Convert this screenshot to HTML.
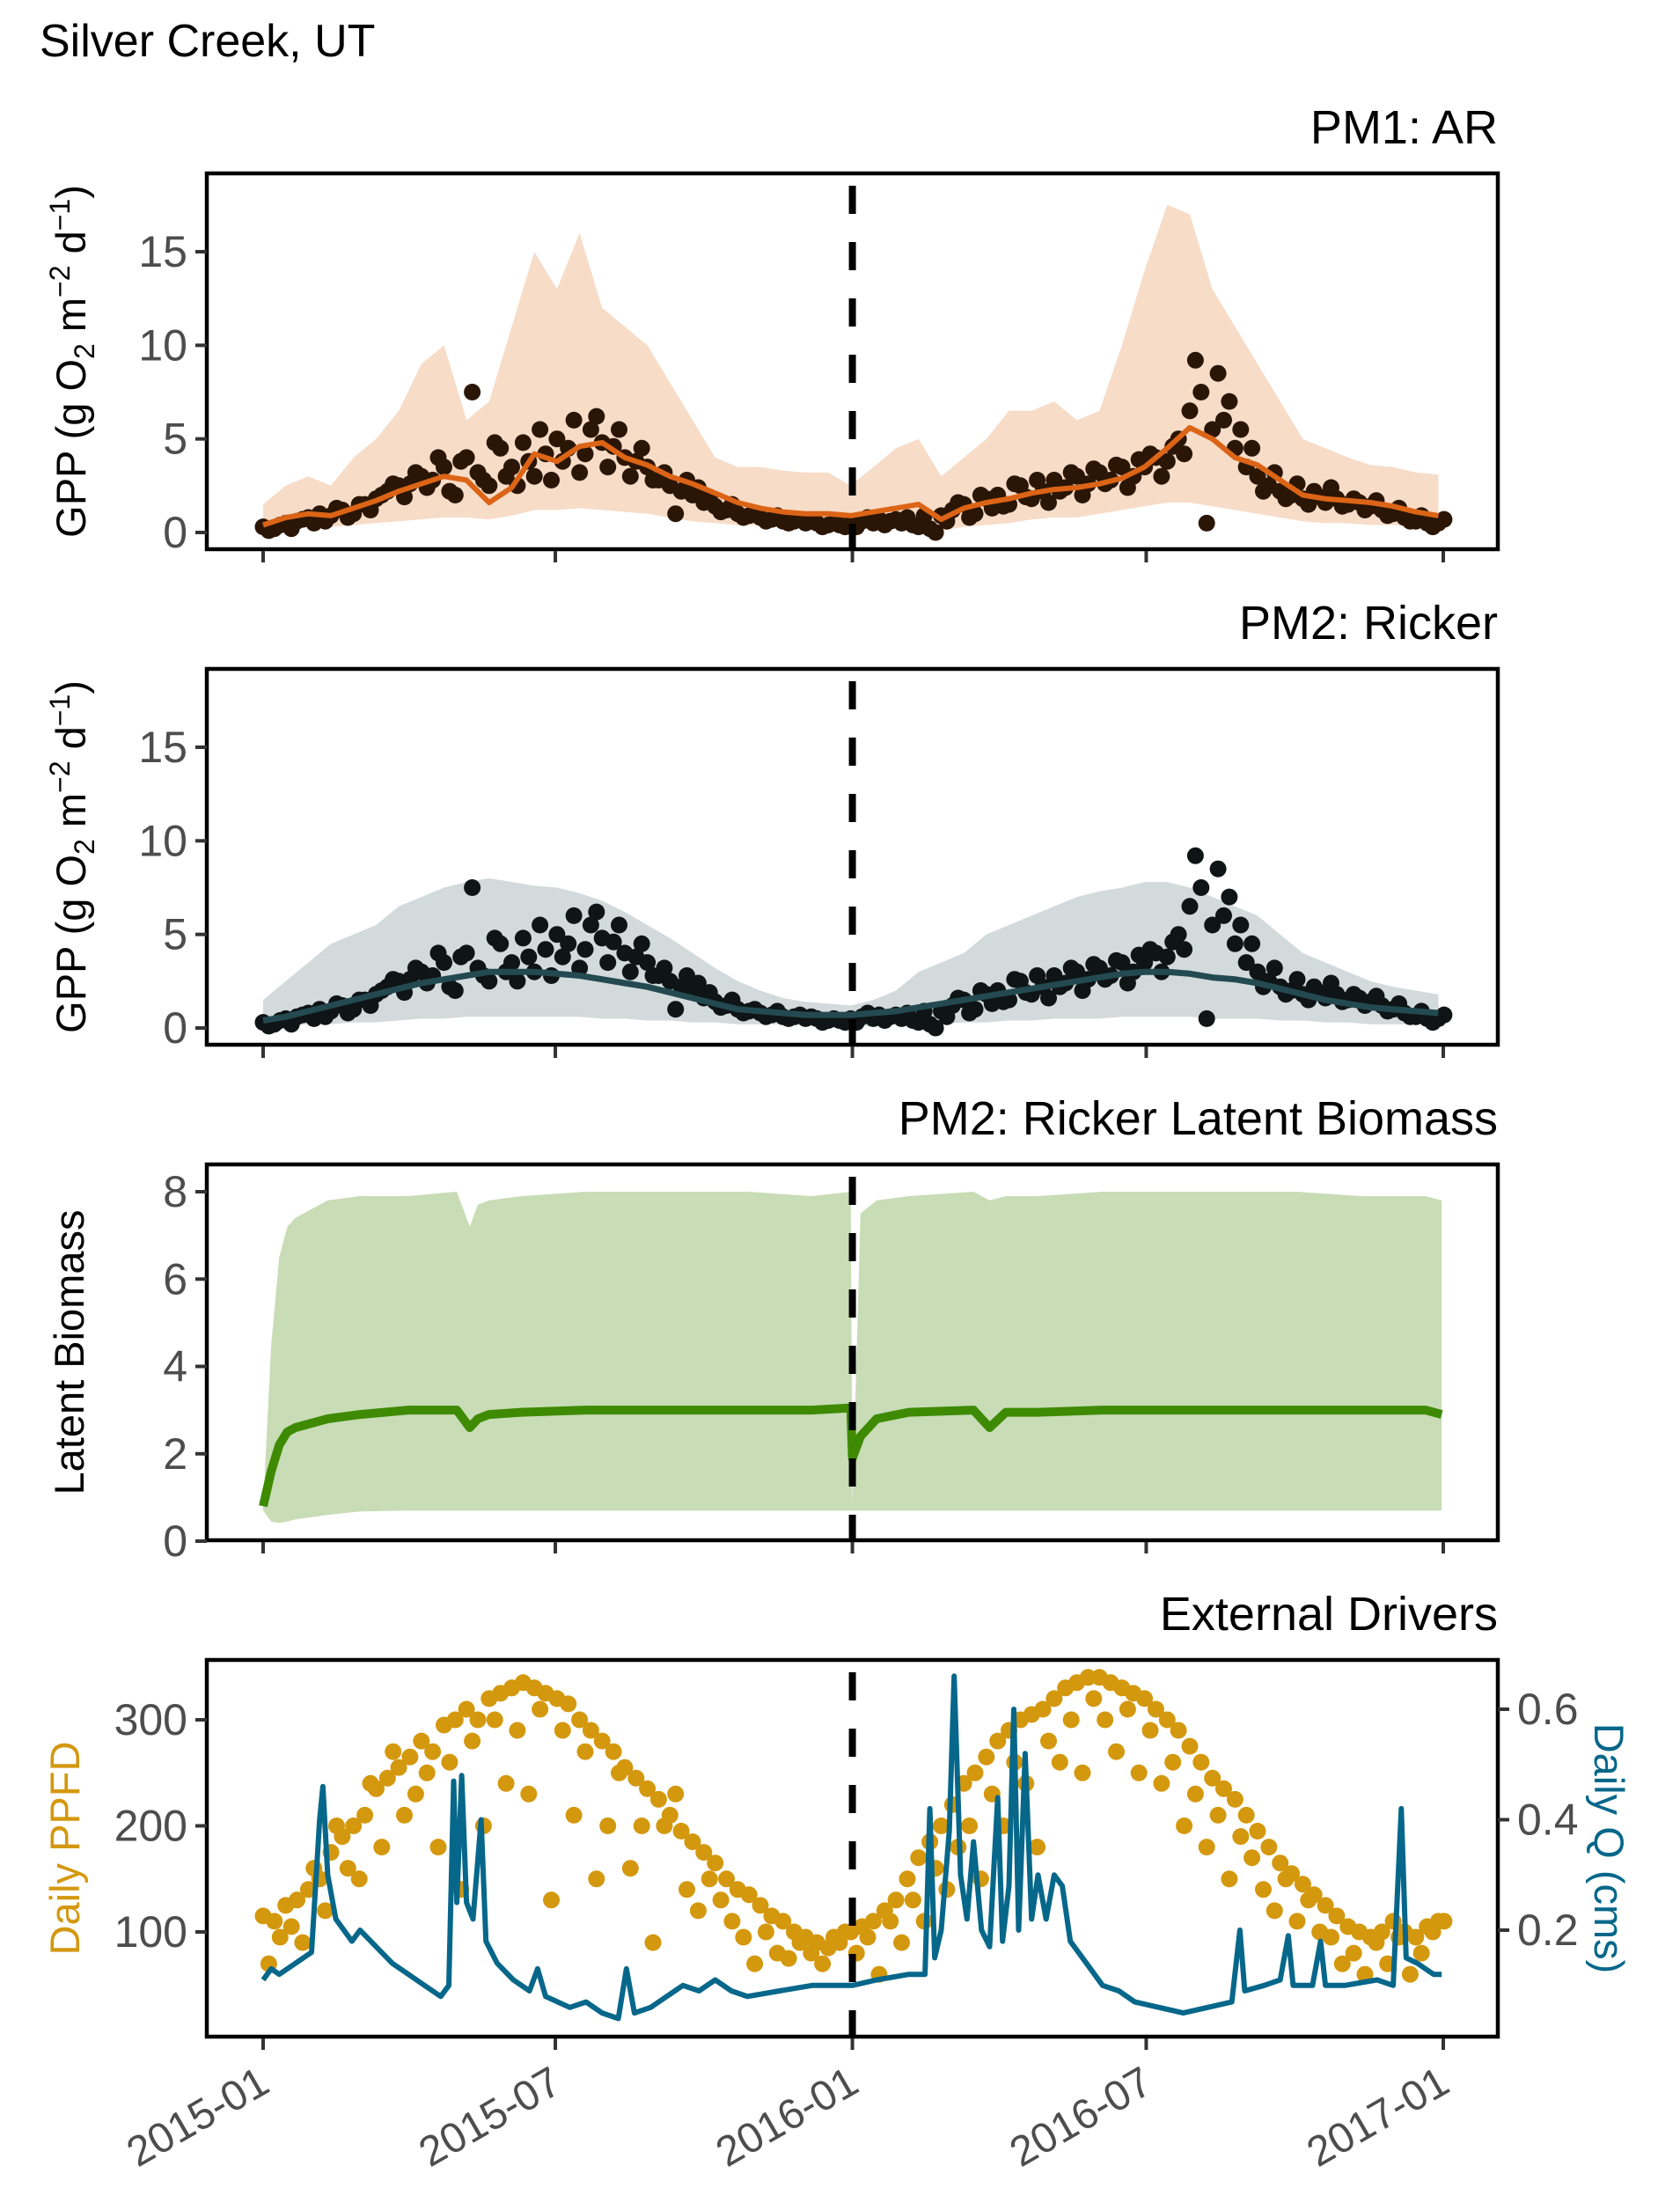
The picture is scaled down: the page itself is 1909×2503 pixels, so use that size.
<!DOCTYPE html>
<html><head><meta charset="utf-8"><title>Silver Creek, UT</title>
<style>
html,body{margin:0;padding:0;background:#fff;}
svg{display:block;font-family:"Liberation Sans",Arial,sans-serif;}
</style></head>
<body>
<svg id="chart" xmlns="http://www.w3.org/2000/svg" width="1909" height="2503" viewBox="0 0 1909 2503">
<rect x="0" y="0" width="1909" height="2503" fill="#fff"/>
<text x="45" y="64" font-size="52" fill="#000">Silver Creek, UT</text>
</svg>
<script>
// ---------- DATA ----------
const xTickLabels = ["2015-01","2015-07","2016-01","2016-07","2017-01"];
const xTickDays = [0,181,365,547,731];
const gppTicks = [0,5,10,15];
const bioTicks = [0,2,4,6,8];
const ppfdTicks = [100,200,300];
const qTicks = [0.2,0.4,0.6];
const breakDay = 365;

// weekly observed GPP (two samples per week)
const obsA = [0.3,0.2,0.5,0.6,0.8, 1.0,0.9,1.2,1.0, 1.5,1.8,2.2,2.5, 2.6,3.0,2.8,3.5,2.0, 4.0,3.2,2.5,4.5, 3.5,4.8,3.0,4.2, 5.0,4.5,3.2,5.5,4.8, 4.6,4.0,3.8,3.5, 2.8,2.5,2.2,2.0, 1.6,1.4,1.2,1.0,0.9, 0.8,0.7,0.6,0.6, 0.5,0.5,0.4,0.4,
  0.5,0.6,0.5,0.4,0.7, 0.8,0.3,0.2,0.9, 1.2,1.5,1.0,1.8, 2.0,1.5,2.5,1.8,2.2, 2.8,2.4,3.0,2.6, 3.2,2.8,3.5,3.0, 3.5,4.0,3.8,5.0, 6.5,7.5,5.5,6.0,4.5, 3.5,3.0,2.5,2.2, 2.0,1.8,2.2,1.6,1.8, 1.5,1.6,1.4,1.2, 1.0,0.8,0.6,0.5,0.5];
const obsB = [0.1,0.4,0.2,0.7,0.5, 0.6,1.3,0.8,1.5, 1.2,2.0,2.6,1.9, 3.2,2.4,4.0,2.2,3.8, 7.5,2.8,4.8,3.0, 2.5,3.8,5.5,2.8, 3.8,6.0,4.2,6.2,3.5, 5.5,3.0,4.5,2.8, 3.2,1.0,2.8,2.4, 1.9,1.1,1.5,0.8,1.0, 0.6,0.9,0.5,0.7, 0.6,0.3,0.5,0.3,
  0.3,0.8,0.7,0.6,0.5, 0.4,0.9,0.0,0.6, 1.6,0.8,2.0,1.3, 1.4,2.6,1.9,2.8,1.6, 2.2,3.2,2.0,3.4, 2.6,3.6,2.4,3.9, 4.2,3.0,4.6,4.2, 9.2,0.5,8.5,7.0,5.5, 4.5,2.2,3.2,1.8, 2.6,1.5,1.9,2.4,1.4, 1.8,1.2,1.7,0.9, 1.3,0.6,0.9,0.3,0.7];

// biweekly model outputs
const arMean = [0.4,0.8,1.0,0.9,1.3,1.7,2.2,2.6,3.0,2.8,1.6,2.4,4.2,3.8,4.6,4.8,4.0,3.6,3.0,2.6,2.1,1.6,1.3,1.1,1.0,1.0,
  0.9,1.1,1.3,1.5,0.7,1.3,1.6,1.8,2.1,2.3,2.4,2.6,2.9,3.5,4.5,5.6,5.0,4.0,3.6,2.8,2.0,1.8,1.7,1.6,1.4,1.1,0.9];
const arUpper = [1.5,2.5,3.0,2.5,4,5,6.5,9,10,6,7,11,15,13,16,12,11,10,8,6,4,3.5,3.5,3.3,3.2,3.2,
  2.5,3.5,4.5,5,3,4,5,6.5,6.5,7,6,6.5,10,14,17.5,17,13,11,9,7,5,4.5,4,3.6,3.5,3.2,3.1];
const arLower = [0.1,0.2,0.3,0.3,0.4,0.5,0.6,0.7,0.8,0.8,0.7,0.9,1.2,1.2,1.3,1.2,1.1,1.0,0.8,0.6,0.5,0.4,0.4,0.3,0.3,0.3,
  0.3,0.3,0.2,0.2,0.1,0.3,0.4,0.5,0.7,0.8,0.8,1.0,1.2,1.4,1.6,1.6,1.4,1.2,1.0,0.8,0.6,0.5,0.5,0.4,0.4,0.3,0.3];
const rkMean = [0.4,0.6,0.9,1.2,1.5,1.8,2.1,2.4,2.6,2.8,3.0,3.0,3.0,2.9,2.8,2.6,2.4,2.2,1.9,1.6,1.3,1.0,0.9,0.8,0.7,0.7,
  0.7,0.8,0.9,1.1,1.3,1.5,1.7,1.9,2.1,2.3,2.5,2.7,2.9,3.0,3.0,2.9,2.7,2.6,2.4,2.1,1.8,1.5,1.3,1.1,1.0,0.9,0.8];
const rkUpper = [1.5,2.5,3.5,4.5,5,5.5,6.5,7,7.5,7.8,8,7.8,7.6,7.5,7.2,6.8,6.2,5.5,4.8,4,3.2,2.5,2,1.6,1.4,1.3,
  1.2,1.5,2,3,3.5,4,5,5.5,6,6.5,7,7.3,7.5,7.8,7.8,7.5,7,6.5,6,5,4,3.5,3,2.5,2.2,2,1.8];
const rkLower = [0.1,0.1,0.2,0.2,0.3,0.3,0.4,0.5,0.5,0.6,0.6,0.6,0.6,0.6,0.6,0.5,0.5,0.4,0.4,0.3,0.3,0.2,0.2,0.2,0.1,0.1,
  0.1,0.1,0.2,0.2,0.2,0.3,0.3,0.4,0.4,0.5,0.5,0.5,0.6,0.6,0.6,0.6,0.5,0.5,0.5,0.4,0.4,0.3,0.3,0.2,0.2,0.2,0.2];

// latent biomass
const bioDays = [0,5,10,15,20,30,40,60,90,120,128,133,140,160,200,250,300,340,364,365,370,380,400,440,450,460,480,520,560,600,640,680,720,730];
const bioMean = [0.8,1.6,2.2,2.5,2.6,2.7,2.8,2.9,3.0,3.0,2.6,2.8,2.9,2.95,3.0,3.0,3.0,3.0,3.05,1.9,2.4,2.8,2.95,3.0,2.6,2.95,2.95,3.0,3.0,3.0,3.0,3.0,3.0,2.9];
const bioUpper = [0.8,4.5,6.5,7.2,7.4,7.6,7.8,7.9,7.9,8.0,7.2,7.7,7.8,7.9,8.0,8.0,8.0,7.9,8.0,0.8,7.5,7.8,7.9,8.0,7.8,7.9,7.9,8.0,8.0,8.0,8.0,7.9,7.9,7.8];
const bioLower = [0.7,0.45,0.42,0.45,0.5,0.55,0.6,0.68,0.7,0.7,0.7,0.7,0.7,0.7,0.7,0.7,0.7,0.7,0.7,0.7,0.7,0.7,0.7,0.7,0.7,0.7,0.7,0.7,0.7,0.7,0.7,0.7,0.7,0.7];

// external drivers
const ppfdA = [115,110,125,130,140, 150,175,190,200, 210,235,245,255, 265,280,270,295,300, 310,300,320,325, 330,335,330,325, 320,315,300,290,280, 270,255,245,235, 225,210,195,185, 175,165,150,140,135, 125,115,110,100, 95,90,85,90,
  100,105,110,120,130, 150,170,185,200, 220,240,250,265, 280,290,300,305,310, 320,330,335,340, 340,335,330,325, 320,310,300,290, 275,260,245,235,225, 210,195,180,165, 155,145,135,125,115, 105,100,95,100, 110,100,95,105,110];
const ppfdB = [70,95,105,90,160, 120,200,160,150, 240,180,270,210, 230,250,180,260,140, 280,200,300,240, 290,230,310,130, 290,210,270,150,200, 250,160,200,90, 200,230,140,120, 150,130,110,95, 70,100,80,75,90, 80,70,95,100,
  80,95,60,110,90, 130,110,160,140, 180,200,150,230, 200,260,240,180,280, 260,300,250,320, 300,270,310,250, 290,240,260,200, 230,180,210,150,190, 170,140,120,150, 110,130,100,95,70, 80,60,90,70, 95,60,80,100,110];
const qDays = [0,5,10,20,30,35,37,40,45,55,60,70,80,90,100,110,115,118,120,123,126,130,135,138,145,155,165,170,175,190,200,210,220,225,230,240,250,260,270,280,290,300,320,340,360,
  365,380,400,410,413,416,420,425,428,432,436,440,445,450,455,458,462,465,468,472,476,480,485,490,495,500,510,520,530,540,555,570,585,600,605,608,620,630,635,638,650,655,658,670,690,700,705,708,715,725,730];
const qVals = [0.11,0.13,0.12,0.14,0.16,0.40,0.46,0.30,0.22,0.18,0.20,0.17,0.14,0.12,0.10,0.08,0.10,0.47,0.25,0.48,0.25,0.22,0.40,0.18,0.14,0.11,0.09,0.13,0.08,0.06,0.07,0.05,0.04,0.13,0.05,0.06,0.08,0.10,0.09,0.11,0.09,0.08,0.09,0.10,0.10,
  0.10,0.11,0.12,0.12,0.42,0.15,0.20,0.38,0.66,0.30,0.22,0.36,0.20,0.17,0.44,0.18,0.28,0.60,0.20,0.52,0.22,0.30,0.22,0.30,0.28,0.18,0.14,0.10,0.09,0.07,0.06,0.05,0.06,0.07,0.20,0.09,0.10,0.11,0.19,0.10,0.10,0.18,0.10,0.10,0.11,0.10,0.42,0.15,0.14,0.12,0.12];

// ---------- LAYOUT ----------
const NS = "http://www.w3.org/2000/svg";
const svg = document.getElementById("chart");
const X0 = 299, PXDAY = (1640-299)/731;
const xS = d => X0 + d*PXDAY;
const L = 235, R = 1702;
const panels = [
  {top:197, bot:624, title:"PM1: AR", ty:163, yS:v=>605 - v*(605-286)/15},
  {top:760, bot:1187, title:"PM2: Ricker", ty:726, yS:v=>1168 - v*(605-286)/15},
  {top:1323, bot:1750, title:"PM2: Ricker Latent Biomass", ty:1289, yS:v=>1751 - v*(1751-1354)/8},
  {top:1886, bot:2314, title:"External Drivers", ty:1852, yS:v=>2195 - (v-100)*(2195-1954)/200}
];
const qS = v => 2193 - (v-0.2)*627.5;

function mk(tag, attrs, parent){
  const e = document.createElementNS(NS, tag);
  for (const k in attrs) e.setAttribute(k, attrs[k]);
  (parent||svg).appendChild(e);
  return e;
}
function bandPath(days, up, lo, yS){
  let d = "M" + days.map((dd,i)=>xS(dd).toFixed(1)+","+yS(up[i]).toFixed(1)).join("L");
  for (let i=days.length-1;i>=0;i--) d += "L"+xS(days[i]).toFixed(1)+","+yS(lo[i]).toFixed(1);
  return d+"Z";
}
function linePath(days, vals, yS){
  return "M" + days.map((dd,i)=>xS(dd).toFixed(1)+","+yS(vals[i]).toFixed(1)).join("L");
}
const wkDaysA = obsA.map((_,i)=>i*7);
const wkDaysB = obsB.map((_,i)=>i*7+3.5);
const bwDays = arMean.map((_,i)=>Math.min(i*14, 730));

function dots(daysArr, vals, yS, color, g, name){
  vals.forEach((v,i)=>{
    const c = mk("circle",{cx:xS(daysArr[i]).toFixed(1), cy:yS(v).toFixed(1), r:9.5, fill:color}, g);
    
    
  });
}

// ---------- PANELS ----------
panels.forEach((p, pi)=>{
  const g = mk("g",{});
  
  
  const t = mk("text",{x:R, y:p.ty, "font-size":54, "text-anchor":"end", fill:"#000"}, g);
  t.textContent = p.title;
  
  

  if (pi===0){
    const b = mk("path",{d:bandPath(bwDays, arUpper, arLower, p.yS), fill:"#f7dcc8"}, g);
    
    
    dots(wkDaysA, obsA, p.yS, "#2b1606", g, 'gpp-observed-point');
    dots(wkDaysB, obsB, p.yS, "#2b1606", g, 'gpp-observed-point');
    const l = mk("path",{d:linePath(bwDays, arMean, p.yS), fill:"none", stroke:"#dc6416", "stroke-width":6, "stroke-linejoin":"round"}, g);
    
    
  } else if (pi===1){
    const b = mk("path",{d:bandPath(bwDays, rkUpper, rkLower, p.yS), fill:"#d3dadc"}, g);
    
    
    dots(wkDaysA, obsA, p.yS, "#0f1416", g, 'gpp-observed-point');
    dots(wkDaysB, obsB, p.yS, "#0f1416", g, 'gpp-observed-point');
    const l = mk("path",{d:linePath(bwDays, rkMean, p.yS), fill:"none", stroke:"#234a50", "stroke-width":7, "stroke-linejoin":"round"}, g);
    
    
  } else if (pi===2){
    const b = mk("path",{d:bandPath(bioDays, bioUpper, bioLower, p.yS), fill:"#c8dcb6"}, g);
    
    
    const l = mk("path",{d:linePath(bioDays, bioMean, p.yS), fill:"none", stroke:"#3e8a02", "stroke-width":10, "stroke-linejoin":"round"}, g);
    
    
  } else {
    dots(wkDaysA, ppfdA, p.yS, "#d4980e", g, 'ppfd-point');
    dots(wkDaysB, ppfdB, p.yS, "#d4980e", g, 'ppfd-point');
    const l = mk("path",{d:linePath(qDays, qVals, qS), fill:"none", stroke:"#06678a", "stroke-width":6, "stroke-linejoin":"round"}, g);
    
    
  }

  const dl = mk("line",{x1:xS(breakDay), x2:xS(breakDay), y1:p.top+14, y2:p.bot, stroke:"#000", "stroke-width":8, "stroke-dasharray":"32 32"}, g);
  
  

  const fr = mk("rect",{x:L, y:p.top, width:R-L, height:p.bot-p.top, fill:"none", stroke:"#000", "stroke-width":4.5}, g);
  
  

  xTickDays.forEach((d,i)=>{
    const tk = mk("line",{x1:xS(d), x2:xS(d), y1:p.bot+2, y2:p.bot+15, stroke:"#333", "stroke-width":4}, g);
    
    
    if (pi===3){
      const tx = xS(d)+10, ty = 2375;
      const lb = mk("text",{x:tx, y:ty, "font-size":48, fill:"#4d4d4d", "text-anchor":"end", transform:`rotate(-30 ${tx} ${ty})`}, g);
      lb.textContent = xTickLabels[i];
      
      
    }
  });

  const ticks = pi<2 ? gppTicks : (pi===2 ? bioTicks : ppfdTicks);
  ticks.forEach(v=>{
    const y = p.yS(v);
    const tk = mk("line",{x1:L-13, x2:L, y1:y, y2:y, stroke:"#333", "stroke-width":4}, g);
    
    
    const lb = mk("text",{x:L-22, y:y+17, "font-size":50, fill:"#4d4d4d", "text-anchor":"end"}, g);
    lb.textContent = v;
    
    
  });

  const cy = (p.top+p.bot)/2;
  if (pi<2){
    const yt = mk("text",{x:0, y:0, "font-size":47, fill:"#000", "text-anchor":"middle", transform:`translate(97 ${cy}) rotate(-90)`}, g);
    yt.innerHTML = 'GPP (g  O<tspan font-size="32" dy="10">2</tspan><tspan dy="-10"> m</tspan><tspan font-size="32" dy="-18">−2</tspan><tspan dy="18"> d</tspan><tspan font-size="32" dy="-18">−1</tspan><tspan dy="18">)</tspan>';
    
    
  } else if (pi===2){
    const yt = mk("text",{x:0, y:0, "font-size":47, fill:"#000", "text-anchor":"middle", transform:`translate(95 ${cy}) rotate(-90)`}, g);
    yt.textContent = "Latent Biomass";
    
    
  } else {
    const yt = mk("text",{x:0, y:0, "font-size":47, fill:"#d4980e", "text-anchor":"middle", transform:`translate(90 ${cy}) rotate(-90)`}, g);
    yt.textContent = "Daily PPFD";
    
    
    qTicks.forEach(v=>{
      const y = qS(v);
      const tk = mk("line",{x1:R, x2:R+13, y1:y, y2:y, stroke:"#333", "stroke-width":4}, g);
      
      
      const lb = mk("text",{x:R+22, y:y+17, "font-size":50, fill:"#4d4d4d"}, g);
      lb.textContent = v.toFixed(1);
      
      
    });
    const qt = mk("text",{x:0, y:0, "font-size":47, fill:"#06678a", "text-anchor":"middle", transform:`translate(1812 2100) rotate(90)`}, g);
    qt.textContent = "Daily Q (cms)";
    
    
  }
});
</script>
</body></html>
